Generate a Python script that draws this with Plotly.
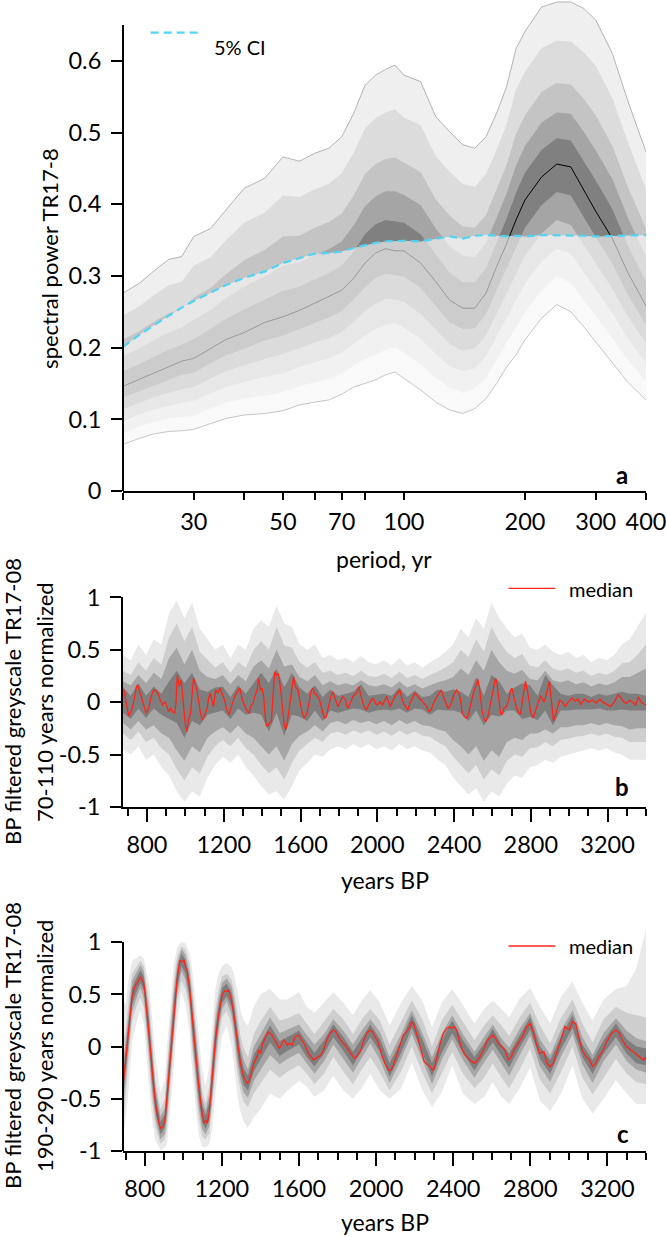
import math
import plotly.graph_objects as go

W, H = 666, 1237
FONT = "Lato"

# ---------------- panel a : spectral power vs period ----------------
PERIOD = [20, 22, 24, 26, 28, 30, 33, 36, 40, 45, 50, 55, 60, 65, 70, 75, 80, 85, 90, 95,
          100, 110, 120, 130, 140, 150, 160, 170, 180, 190, 200, 220, 240, 260, 280, 300, 330, 360, 400]
A_U0 = [.276, .290, .308, .323, .327, .355, .366, .392, .422, .436, .466, .460, .471, .478, .494, .527, .566, .580, .588, .594,
        .580, .571, .522, .501, .483, .478, .494, .527, .564, .617, .641, .675, .682, .682, .673, .657, .610, .545, .473]
A_U1 = [.245, .258, .274, .287, .292, .314, .326, .349, .374, .388, .412, .410, .421, .428, .443, .472, .506, .520, .528, .532,
        .521, .510, .467, .445, .428, .424, .442, .476, .511, .560, .585, .618, .628, .627, .612, .593, .548, .487, .421]
A_U2 = [.211, .223, .237, .248, .254, .270, .283, .302, .322, .336, .355, .356, .367, .375, .387, .412, .442, .456, .463, .465,
        .458, .445, .407, .384, .369, .367, .385, .420, .455, .498, .524, .557, .569, .567, .547, .524, .481, .425, .366]
A_U3 = [.188, .199, .211, .221, .228, .239, .252, .269, .285, .299, .314, .319, .329, .337, .348, .371, .397, .411, .418, .418,
        .413, .399, .366, .341, .328, .326, .346, .381, .415, .454, .481, .514, .528, .526, .501, .475, .435, .382, .327]
A_U4 = [.167, .177, .188, .197, .204, .212, .226, .240, .253, .267, .279, .285, .295, .304, .314, .334, .358, .372, .378, .376,
        .374, .358, .329, .304, .291, .291, .311, .347, .380, .416, .444, .476, .492, .489, .460, .433, .393, .343, .292]
A_MED = [.146, .156, .165, .173, .181, .185, .199, .211, .221, .235, .243, .252, .262, .271, .280, .297, .318, .332, .338, .335,
         .335, .318, .292, .266, .255, .255, .276, .313, .345, .378, .406, .438, .456, .452, .420, .390, .352, .305, .258]
A_L4 = [.130, .140, .148, .155, .162, .165, .178, .189, .198, .210, .217, .226, .234, .242, .251, .267, .284, .297, .303, .301,
        .299, .283, .258, .235, .226, .227, .247, .280, .311, .340, .367, .399, .417, .412, .382, .354, .317, .274, .232]
A_L3 = [.114, .123, .131, .137, .142, .145, .157, .167, .175, .184, .191, .199, .207, .213, .222, .236, .251, .261, .268, .267,
        .264, .247, .225, .205, .196, .199, .217, .248, .276, .303, .328, .359, .378, .371, .344, .317, .282, .244, .206]
A_L2 = [.097, .107, .114, .119, .123, .126, .136, .145, .152, .159, .164, .173, .179, .185, .193, .206, .217, .226, .232, .234,
        .228, .212, .191, .174, .167, .171, .188, .215, .242, .265, .289, .320, .338, .331, .305, .281, .248, .213, .179]
A_L1 = [.081, .090, .097, .101, .103, .105, .115, .123, .129, .133, .138, .146, .152, .156, .164, .175, .184, .190, .197, .200,
        .193, .176, .158, .144, .137, .143, .158, .183, .207, .228, .250, .280, .299, .290, .267, .244, .213, .183, .153]
A_L0 = [.065, .0735, .080, .083, .084, .086, .094, .101, .106, .108, .112, .120, .124, .127, .135, .145, .150, .155, .162, .166,
        .157, .141, .124, .113, .108, .115, .129, .150, .173, .190, .211, .241, .260, .250, .229, .208, .178, .152, .127]
A_CI = [.201, .218, .232, .245, .256, .265, .276, .287, .297, .306, .318, .325, .331, .332, .334, .339, .343, .346, .348, .349,
        .349, .348, .352, .355, .352, .356, .357, .356, .355, .356, .355, .357, .357, .356, .356, .355, .356, .356, .357]
A_XTICKS = [20, 30, 40, 50, 60, 70, 80, 100, 200, 300, 400]
A_XLABELS = ["", "30", "", "50", "", "70", "", "100", "200", "300", "400"]
A_YTICKS = [0, 0.1, 0.2, 0.3, 0.4, 0.5, 0.6]
A_YLABELS = ["0", "0.1", "0.2", "0.3", "0.4", "0.5", "0.6"]

# ---------------- panel b : 70-110 yr band-pass ----------------
B_T = [678, 680, 692, 705, 713, 725, 736, 745, 751, 760, 770, 783, 795, 809, 822, 835, 843, 857, 869, 881, 895, 904, 913, 923,
       933, 944, 951, 958, 968, 978, 989, 999, 1008, 1016, 1027, 1034, 1042, 1051, 1060, 1068, 1079, 1089, 1100, 1112, 1120,
       1129, 1138, 1146, 1158, 1169, 1181, 1190, 1204, 1216, 1228, 1240, 1257, 1275, 1283, 1297, 1309, 1318, 1332, 1339, 1353,
       1361, 1374, 1382, 1391, 1399, 1408, 1419, 1425, 1436, 1448, 1457, 1465, 1474, 1483, 1495, 1505, 1514, 1522, 1529, 1540,
       1552, 1564, 1574, 1587, 1599, 1609, 1621, 1633, 1647, 1656, 1665, 1673, 1685, 1699, 1717, 1725, 1734, 1748, 1760, 1768,
       1782, 1795, 1803, 1820, 1834, 1846, 1859, 1872, 1890, 1904, 1916, 1928, 1942, 1956, 1968, 1980, 1990, 2001, 2014, 2027,
       2039, 2049, 2058, 2066, 2079, 2091, 2105, 2117, 2125, 2136, 2148, 2160, 2170, 2182, 2195, 2205, 2217, 2229, 2243, 2257,
       2269, 2281, 2292, 2304, 2312, 2321, 2333, 2344, 2356, 2368, 2378, 2390, 2402, 2413, 2425, 2434, 2442, 2454, 2465, 2474,
       2486, 2500, 2512, 2524, 2534, 2545, 2555, 2565, 2576, 2586, 2598, 2607, 2616, 2624, 2633, 2642, 2650, 2659, 2673, 2685,
       2694, 2702, 2715, 2730, 2745, 2760, 2772, 2785, 2800, 2812, 2830, 2850, 2870, 2885, 2897, 2905, 2918, 2932, 2950, 2965,
       2980, 2995, 3015, 3030, 3045, 3060, 3080, 3100, 3120, 3140, 3160, 3175, 3195, 3215, 3235, 3255, 3270, 3285, 3300, 3315,
       3330, 3345, 3360, 3375, 3390, 3400]
B_MED = [0.12, 0.116, -0.011, -0.132, -0.106, -0.043, 0.053, 0.148, 0.164, 0.116, 0.053, -0.027, -0.106, -0.059, 0.053, 0.116,
         0.116, 0.085, 0.021, -0.027, 0.005, -0.043, -0.090, -0.059, -0.090, -0.106, -0.011, 0.259, 0.148, 0.212, 0.021, -0.202,
         -0.281, -0.170, -0.106, 0.021, 0.228, 0.180, 0.116, 0.021, -0.106, -0.170, -0.122, -0.074, 0.021, 0.085, 0.021, -0.043,
         0.116, 0.085, 0.132, 0.085, 0.021, -0.074, -0.122, -0.040, 0.053, 0.116, 0.132, 0.021, -0.027, -0.074, -0.106, -0.043,
         -0.011, 0.053, 0.116, 0.228, 0.116, 0.132, 0.053, -0.202, -0.233, -0.202, -0.186, 0.021, 0.291, 0.259, 0.275, 0.148,
         -0.011, -0.202, -0.265, -0.217, -0.074, 0.116, 0.244, 0.148, 0.116, -0.011, -0.106, -0.154, -0.106, 0.021, 0.116, 0.132,
         0.085, 0.069, 0.021, -0.106, -0.154, -0.138, -0.011, 0.069, 0.100, 0.021, -0.043, -0.011, 0.053, 0.021, -0.059, -0.011,
         0.053, 0.085, 0.148, 0.053, -0.027, -0.074, -0.027, 0.021, 0.037, -0.011, -0.027, 0.005, -0.027, 0.021, 0.053, 0.005,
         -0.043, 0.005, 0.053, 0.085, 0.116, 0.053, -0.011, -0.043, -0.074, -0.011, 0.037, 0.085, 0.069, 0.037, 0.021, -0.011,
         -0.043, -0.090, -0.074, -0.011, 0.037, 0.053, 0.085, 0.116, 0.053, -0.011, -0.059, -0.043, 0.021, 0.085, 0.116, 0.085,
         0.021, -0.106, -0.138, -0.154, -0.122, -0.027, 0.085, 0.148, 0.218, 0.116, -0.074, -0.154, -0.186, -0.138, -0.043, 0.053,
         0.148, 0.228, 0.180, 0.021, -0.106, -0.122, -0.059, -0.043, 0.021, 0.116, 0.132, 0.02, -0.08, -0.12, 0.05, 0.20, 0.08,
         -0.10, -0.15, -0.05, 0.06, 0.0, 0.10, 0.20, 0.05, -0.18, -0.10, 0.02, 0.0, -0.04, 0.0, 0.04, 0.01, 0.03, -0.02, 0.03,
         0.0, 0.02, -0.01, 0.03, 0.0, -0.02, -0.04, 0.0, 0.07, 0.04, 0.0, -0.01, 0.02, 0.0, -0.03, 0.05, 0.0, -0.02, -0.03]
B_BT = list(range(675, 3360, 40)) + [3400]
B_O_HI = [.45, .40, .55, .45, .60, .55, .85, .97, .80, .95,
          .70, .60, .50, .55, .42, .55, .50, .70, .78, .72,
          .92, .75, .72, .55, .50, .55, .42, .45, .40, .42,
          .38, .44, .38, .36, .40, .35, .42, .35, .38, .33,
          .38, .42, .48, .55, .70, .62, .80, .70, .95, .80,
          .70, .62, .65, .52, .50, .55, .48, .45, .48, .42,
          .45, .38, .42, .40, .45, .55, .60, .72, .85]
B_O_LO = [-.45, -.50, -.42, -.55, -.50, -.62, -.70, -.85, -.95, -.85,
          -.90, -.72, -.60, -.52, -.58, -.50, -.62, -.70, -.80, -.88,
          -.85, -.93, -.80, -.65, -.58, -.50, -.52, -.45, -.42, -.45,
          -.40, -.44, -.40, -.45, -.42, -.46, -.40, -.45, -.42, -.46,
          -.48, -.55, -.60, -.72, -.80, -.88, -.82, -.95, -.85, -.90,
          -.78, -.70, -.72, -.62, -.60, -.55, -.58, -.52, -.50, -.48,
          -.46, -.44, -.46, -.44, -.48, -.50, -.55, -.55, -.55]
B_S_HI = [.30, .26, .38, .30, .42, .36, .62, .75, .58, .72,
          .48, .40, .33, .38, .28, .38, .33, .50, .58, .50,
          .72, .54, .52, .38, .33, .38, .28, .30, .26, .28,
          .25, .30, .25, .24, .27, .23, .29, .23, .26, .22,
          .26, .29, .33, .38, .50, .43, .60, .48, .72, .58,
          .48, .42, .46, .35, .33, .40, .32, .30, .32, .28,
          .30, .25, .28, .26, .30, .37, .38, .45, .55]
B_S_LO = [-.30, -.36, -.28, -.38, -.34, -.44, -.50, -.64, -.75, -.62,
          -.68, -.52, -.42, -.36, -.42, -.34, -.44, -.50, -.60, -.68,
          -.62, -.74, -.58, -.46, -.40, -.34, -.38, -.30, -.28, -.31,
          -.27, -.30, -.27, -.31, -.28, -.32, -.27, -.31, -.28, -.32,
          -.33, -.38, -.42, -.52, -.60, -.68, -.60, -.74, -.64, -.70,
          -.56, -.50, -.52, -.44, -.43, -.38, -.42, -.36, -.35, -.33,
          -.32, -.30, -.32, -.30, -.33, -.34, -.38, -.38, -.38]
B_T_HI = [.20, .16, .26, .18, .28, .22, .42, .52, .36, .50,
          .30, .24, .22, .26, .17, .26, .20, .34, .40, .32,
          .50, .34, .36, .24, .20, .26, .16, .20, .16, .18,
          .16, .21, .16, .15, .17, .14, .20, .14, .17, .13,
          .16, .19, .21, .24, .32, .26, .40, .30, .50, .38,
          .30, .27, .31, .22, .21, .30, .21, .19, .21, .17,
          .19, .15, .18, .16, .19, .24, .24, .28, .32]
B_T_LO = [-.20, -.26, -.18, -.26, -.22, -.30, -.34, -.46, -.56, -.42,
          -.48, -.34, -.28, -.24, -.30, -.22, -.30, -.34, -.42, -.50,
          -.42, -.56, -.40, -.32, -.28, -.22, -.28, -.20, -.18, -.21,
          -.17, -.20, -.18, -.21, -.18, -.22, -.17, -.21, -.18, -.22,
          -.23, -.26, -.28, -.36, -.42, -.50, -.42, -.56, -.46, -.52,
          -.38, -.34, -.36, -.30, -.30, -.26, -.30, -.24, -.24, -.22,
          -.22, -.20, -.22, -.20, -.22, -.23, -.26, -.25, -.25]
B_I_HI = [.14, .06, .18, .06, .15, .08, .20, .30, .18, .28,
          .12, .10, .14, .15, .05, .16, .08, .18, .28, .18,
          .32, .14, .28, .14, .08, .16, .05, .12, .06, .08,
          .10, .17, .06, .07, .08, .06, .14, .05, .11, .05,
          .06, .12, .10, .12, .10, .05, .24, .06, .26, .20,
          .08, .14, .18, .16, .06, .26, .16, .08, .06, .08,
          .08, .05, .08, .06, .08, .10, .08, .08, .06]
B_I_LO = [-.10, -.16, -.06, -.15, -.06, -.12, -.16, -.20, -.34, -.18,
          -.22, -.12, -.10, -.08, -.16, -.06, -.12, -.10, -.12, -.28,
          -.10, -.32, -.12, -.14, -.18, -.08, -.18, -.08, -.10, -.08,
          -.06, -.07, -.10, -.08, -.07, -.08, -.06, -.10, -.06, -.07,
          -.12, -.07, -.08, -.08, -.10, -.18, -.08, -.22, -.12, -.14,
          -.08, -.08, -.16, -.14, -.17, -.08, -.22, -.08, -.08, -.07,
          -.07, -.07, -.06, -.08, -.08, -.07, -.08, -.08, -.08]

# ---------------- panel c : 190-290 yr band-pass ----------------
C_T = [687.5, 699.6, 716.9, 734.2, 748, 760.1, 768.7, 777.4, 786, 794.7, 803.3, 820.6, 837.9, 855.2, 869, 881.1, 893.2, 903.6,
       915.7, 933, 950.3, 967.6, 981.4, 990, 997, 1003.9, 1010.8, 1019.4, 1031.5, 1045.4, 1062.7, 1080, 1097.2, 1107.6, 1118,
       1124.9, 1135.3, 1149.1, 1166.4, 1183.7, 1201, 1214.8, 1226.9, 1235.5, 1249.4, 1261.5, 1278.8, 1296.1, 1313.3, 1330.6,
       1339.3, 1353.1, 1365.2, 1382.5, 1391.2, 1399.8, 1411.9, 1425.7, 1439.6, 1451.7, 1460.3, 1474.1, 1486.3, 1498.4, 1508.7,
       1520.8, 1529.5, 1538.1, 1550.2, 1564, 1580, 1597, 1614, 1631, 1649, 1666, 1675, 1687, 1701, 1714, 1727, 1744, 1761, 1778,
       1791, 1804, 1822, 1839, 1856, 1874, 1887, 1899, 1917, 1934, 1951, 1969, 1981, 1995, 2012, 2029, 2046, 2064, 2077, 2090,
       2107, 2124, 2141, 2159, 2176, 2185, 2193, 2202, 2216, 2233, 2250, 2268, 2280, 2292, 2302, 2314, 2332, 2349, 2366, 2378,
       2392, 2406, 2418, 2430, 2444, 2461, 2479, 2496, 2513, 2527, 2539, 2556, 2574, 2591, 2600, 2608, 2620, 2634, 2652, 2669,
       2686, 2703, 2715, 2738, 2759, 2782, 2799, 2815, 2830, 2848, 2870, 2887, 2903, 2918, 2936, 2953, 2969, 2980, 3002, 3019,
       3035, 3050, 3068, 3090, 3107, 3123, 3139, 3156, 3178, 3200, 3222, 3244, 3262, 3277, 3299, 3321, 3344, 3366, 3388, 3400]
C_MED = [-0.368, -0.161, 0.158, 0.477, 0.573, 0.605, 0.636, 0.668, 0.636, 0.605, 0.477, 0.158, -0.225, -0.544, -0.703, -0.783,
         -0.767, -0.719, -0.480, -0.097, 0.317, 0.636, 0.828, 0.812, 0.812, 0.828, 0.764, 0.732, 0.573, 0.285, -0.066, -0.384,
         -0.639, -0.735, -0.703, -0.735, -0.608, -0.321, 0.062, 0.317, 0.493, 0.534, 0.525, 0.541, 0.445, 0.317, 0.062, -0.161,
         -0.289, -0.352, -0.336, -0.257, -0.161, -0.097, -0.033, -0.066, 0.030, 0.094, 0.142, 0.120, 0.110, 0.062, 0.015, -0.018,
         0.015, 0.062, 0.047, 0.015, 0.030, 0.015, 0.094, 0.110, 0.062, 0.015, -0.066, -0.113, -0.129, -0.113, -0.097, -0.081,
         -0.033, 0.062, 0.126, 0.158, 0.142, 0.094, 0.047, 0.015, -0.033, -0.081, -0.113, -0.097, -0.050, 0.047, 0.126, 0.158,
         0.142, 0.094, 0.030, -0.081, -0.161, -0.225, -0.225, -0.177, -0.081, 0.030, 0.110, 0.142, 0.190, 0.238, 0.222, 0.174,
         0.078, -0.050, -0.145, -0.177, -0.193, -0.225, -0.209, -0.113, 0.030, 0.126, 0.174, 0.190, 0.174, 0.190, 0.158, 0.062,
         -0.018, -0.081, -0.113, -0.145, -0.161, -0.129, -0.097, -0.033, 0.047, 0.088, 0.094, 0.110, 0.078, 0.030, -0.002, -0.033,
         -0.129, -0.090, -0.034, 0.030, 0.094, 0.190, 0.221, 0.142, 0.030, -0.066, -0.050, -0.161, -0.193, -0.161, -0.050, 0.030,
         0.126, 0.190, 0.158, 0.237, 0.220, 0.094, -0.034, -0.097, -0.129, -0.193, -0.160, -0.097, -0.034, 0.062, 0.126, 0.158,
         0.126, 0.062, 0.000, -0.034, -0.066, -0.097, -0.129, -0.097]
C_BT = [687.5, 699.6, 716.9, 734.2, 760.1, 777.4, 794.7, 820.6, 837.9, 855.2, 881.1, 903.6, 915.7, 933, 950.3, 967.6, 990,
        1010.8, 1031.5, 1045.4, 1062.7, 1080, 1097.2, 1115, 1135.3, 1149.1, 1166.4, 1183.7, 1201, 1225, 1249.4, 1261.5, 1278.8,
        1296.1, 1313.3, 1335, 1365.2, 1400,
        1450, 1500, 1540, 1600, 1640, 1680, 1730, 1778, 1830, 1880, 1925, 1970, 2020, 2070, 2130, 2185, 2240, 2290, 2340, 2395,
        2450, 2510, 2560, 2605, 2650, 2690, 2745, 2799, 2850, 2903, 2960, 3019, 3070, 3123, 3180, 3244, 3300, 3350, 3400]
C_O_HI = [0.45, 0.40, 0.65, 0.82, 0.85, 0.87, 0.84, 0.62, 0.28, -0.10, -0.45, -0.32, 0.0, 0.38, 0.78, 0.95, 1.0, 0.99, 0.90,
          0.75, 0.42, 0.10, -0.22, -0.38, -0.18, 0.18, 0.55, 0.70, 0.77, 0.80, 0.76, 0.70, 0.55, 0.35, 0.25, 0.20, 0.38, 0.50,
          .55, .45, .45, .52, .38, .32, .42, .52, .42, .30, .44, .54, .42, .20, .42, .58, .44, .18, .42, .55, .40, .22, .36, .44,
          .36, .28, .46, .56, .38, .22, .48, .62, .42, .25, .45, .55, .58, .75, 1.12]
C_O_LO = [-0.90, -0.70, -0.40, 0.05, 0.25, 0.35, 0.22, -0.35, -0.70, -0.90, -0.99, -0.97, -0.93, -0.60, -0.20, 0.22, 0.52,
          0.40, 0.15, -0.22, -0.56, -0.85, -0.96, -0.97, -0.93, -0.80, -0.45, -0.12, 0.10, 0.20, 0.02, -0.15, -0.45, -0.62, -0.72,
          -0.78, -0.68, -0.60,
          -.45, -.50, -.42, -.33, -.38, -.48, -.42, -.28, -.42, -.50, -.40, -.26, -.42, -.50, -.40, -.15, -.42, -.58, -.44, -.18,
          -.45, -.55, -.48, -.34, -.48, -.55, -.40, -.20, -.52, -.62, -.45, -.18, -.50, -.64, -.50, -.32, -.45, -.55, -.55]
C_S_HI = [0.05, 0.14, 0.46, 0.70, 0.77, 0.82, 0.77, 0.46, 0.08, -0.32, -0.60, -0.50, -0.18, 0.20, 0.62, 0.86, 0.96, 0.93,
          0.80, 0.59, 0.24, -0.08, -0.42, -0.54, -0.38, -0.02, 0.36, 0.55, 0.67, 0.70, 0.64, 0.55, 0.35, 0.10, -0.02, -0.10,
          0.12, 0.24,
          .38, .25, .27, .32, .22, .12, .24, .36, .26, .12, .26, .36, .25, .02, .24, .44, .26, 0, .25, .40, .24, .06, .20, .30,
          .20, .10, .28, .42, .20, .03, .28, .45, .22, .04, .26, .38, .32, .30, .28]
C_S_LO = [-0.75, -0.46, -0.14, 0.25, 0.40, 0.47, 0.38, -0.14, -0.53, -0.77, -0.93, -0.89, -0.78, -0.40, 0.02, 0.41, 0.63, 0.55,
          0.35, -0.02, -0.37, -0.69, -0.86, -0.89, -0.83, -0.62, -0.24, 0.08, 0.28, 0.34, 0.22, 0.06, -0.24, -0.42, -0.53, -0.58,
          -0.45, -0.35,
          -.22, -.30, -.24, -.18, -.26, -.36, -.26, -.10, -.24, -.36, -.22, -.10, -.25, -.42, -.24, 0, -.25, -.45, -.26, -.05,
          -.26, -.40, -.30, -.16, -.30, -.40, -.22, -.02, -.32, -.45, -.24, 0, -.30, -.46, -.30, -.12, -.26, -.34, -.36]
C_T_HI = [-0.17, 0.04, 0.36, 0.63, 0.72, 0.78, 0.72, 0.36, -0.02, -0.39, -0.67, -0.59, -0.28, 0.10, 0.52, 0.79, 0.93, 0.88,
          0.72, 0.49, 0.14, -0.18, -0.49, -0.61, -0.46, -0.12, 0.26, 0.47, 0.61, 0.65, 0.58, 0.47, 0.25, 0.0, -0.13, -0.22,
          0.0, 0.11,
          .28, .13, .16, .21, .11, .02, .12, .26, .15, .02, .15, .26, .14, -.10, .12, .35, .13, -.10, .12, .30, .12, -.05, .09,
          .21, .08, -.01, .17, .32, .07, -.08, .16, .35, .09, -.08, .13, .27, .15, .08, .05]
C_T_LO = [-0.57, -0.36, -0.04, 0.33, 0.48, 0.56, 0.47, -0.04, -0.43, -0.69, -0.89, -0.84, -0.68, -0.30, 0.12, 0.49, 0.72, 0.64,
          0.42, 0.08, -0.27, -0.59, -0.79, -0.84, -0.76, -0.52, -0.14, 0.16, 0.36, 0.43, 0.31, 0.16, -0.13, -0.33, -0.44, -0.49,
          -0.33, -0.22,
          -.08, -.17, -.12, -.06, -.16, -.26, -.14, .02, -.12, -.25, -.11, .03, -.13, -.35, -.12, .12, -.13, -.36, -.13, .07,
          -.13, -.30, -.15, -.03, -.16, -.28, -.08, .10, -.19, -.34, -.09, .12, -.17, -.35, -.14, .02, -.14, -.22, -.25]
C_I_HI = [-0.26, -0.05, 0.27, 0.56, 0.67, 0.73, 0.67, 0.27, -0.11, -0.46, -0.72, -0.65, -0.37, 0.01, 0.43, 0.72, 0.89, 0.83,
          0.65, 0.40, 0.05, -0.27, -0.56, -0.66, -0.53, -0.21, 0.17, 0.40, 0.56, 0.60, 0.52, 0.40, 0.16, -0.07, -0.21, -0.28,
          -0.08, 0.03,
          .20, .05, .09, .15, .04, -.06, .06, .21, .09, -.05, .08, .21, .07, -.16, .06, .30, .07, -.16, .06, .25, .06, -.10, .03,
          .17, .02, -.07, .11, .28, 0, -.13, .10, .30, .02, -.13, .06, .22, .07, 0, -.02]
C_I_LO = [-0.48, -0.27, 0.05, 0.40, 0.54, 0.61, 0.54, 0.05, -0.34, -0.62, -0.84, -0.78, -0.59, -0.21, 0.21, 0.56, 0.77, 0.70,
          0.49, 0.17, -0.18, -0.50, -0.72, -0.79, -0.69, -0.43, -0.05, 0.23, 0.42, 0.48, 0.38, 0.23, -0.04, -0.25, -0.37, -0.42,
          -0.24, -0.13,
          .04, -.09, -.04, .02, -.10, -.19, -.07, .09, -.04, -.18, -.04, .09, -.05, -.29, -.06, .18, -.06, -.29, -.06, .13, -.06,
          -.23, -.08, .04, -.09, -.20, -.01, .16, -.12, -.26, -.02, .18, -.10, -.26, -.07, .09, -.07, -.16, -.18]

T_MAJOR = [800, 1200, 1600, 2000, 2400, 2800, 3200]
T_LABELS = ["800", "1200", "1600", "2000", "2400", "2800", "3200"]
T_MINOR = list(range(700, 3401, 100))
BC_YTICKS = [-1, -0.5, 0, 0.5, 1]
BC_YLABELS = ["-1", "-0.5", "0", "0.5", "1"]

# ---------------- helpers ----------------
def px(x):
    return x / W


def py(y):
    return 1 - y / H


def band(x, hi, lo, color, xa, ya):
    return go.Scatter(x=list(x) + list(x)[::-1], y=list(hi) + list(lo)[::-1], fill="toself",
                      fillcolor=color, line=dict(width=0), mode="lines", hoverinfo="skip",
                      showlegend=False, xaxis=xa, yaxis=ya)


fig = go.Figure()

# panel a
A_GREYS = ["#efefef", "#dcdcdc", "#c4c4c4", "#a5a5a5", "#808080"]
for hi, lo, col in zip([A_U0, A_U1, A_U2, A_U3, A_U4], [A_L0, A_L1, A_L2, A_L3, A_L4], A_GREYS):
    fig.add_trace(band(PERIOD, hi, lo, col, "x", "y"))
fig.add_trace(go.Scatter(x=PERIOD, y=A_MED, mode="lines", line=dict(color="black", width=1),
                         showlegend=False, hoverinfo="skip"))
fig.add_trace(go.Scatter(x=PERIOD, y=A_CI, mode="lines", line=dict(width=0), fill="tozeroy",
                         fillcolor="rgba(255,255,255,0.6)", showlegend=False, hoverinfo="skip"))
fig.add_trace(go.Scatter(x=PERIOD, y=A_U0, mode="lines", line=dict(color="#a2a2a2", width=0.8),
                         showlegend=False, hoverinfo="skip"))
fig.add_trace(go.Scatter(x=PERIOD, y=A_L0, mode="lines", line=dict(color="#b8b8b8", width=0.8),
                         showlegend=False, hoverinfo="skip"))
fig.add_trace(go.Scatter(x=PERIOD, y=A_CI, mode="lines", line=dict(color="#52d4f2", width=2.2, dash="8px,5px"),
                         showlegend=False, hoverinfo="skip"))

# panel b
BC_GREYS = ["#e9e9e9", "#cecece", "#a6a6a6", "#7e7e7e"]
for hi, lo, col in zip([B_O_HI, B_S_HI, B_T_HI, B_I_HI], [B_O_LO, B_S_LO, B_T_LO, B_I_LO], BC_GREYS):
    fig.add_trace(band(B_BT, hi, lo, col, "x2", "y2"))
fig.add_trace(go.Scatter(x=B_T, y=B_MED, mode="lines", line=dict(color="#ff2418", width=1.3),
                         showlegend=False, hoverinfo="skip", xaxis="x2", yaxis="y2"))

# panel c
for hi, lo, col in zip([C_O_HI, C_S_HI, C_T_HI, C_I_HI], [C_O_LO, C_S_LO, C_T_LO, C_I_LO], BC_GREYS):
    fig.add_trace(band(C_BT, hi, lo, col, "x3", "y3"))
fig.add_trace(go.Scatter(x=C_T, y=C_MED, mode="lines", line=dict(color="#ff2418", width=1.3),
                         showlegend=False, hoverinfo="skip", xaxis="x3", yaxis="y3"))

XD = [px(123), px(646)]
tickfont = dict(family=FONT, size=23.5, color="black")
common_x = dict(showgrid=False, zeroline=False, showline=True, linecolor="black", linewidth=2,
                ticks="outside", tickcolor="black", tickwidth=1.5, tickfont=tickfont, automargin=False,
                ticklabeloverflow="allow")
common_y = dict(showgrid=False, zeroline=False, ticks="outside", tickcolor="black", tickwidth=1.5,
                ticklen=11, tickfont=tickfont, automargin=False, tickmode="array",
                tickvals=BC_YTICKS, ticktext=BC_YLABELS, ticklabelstandoff=5, ticklabeloverflow="allow")
minor = dict(tickmode="array", tickvals=T_MINOR, ticklen=7, tickwidth=1.5,
             tickcolor="black", ticks="outside", showgrid=False)

fig.update_layout(
    width=W, height=H, margin=dict(l=0, r=0, t=0, b=0),
    paper_bgcolor="white", plot_bgcolor="white", showlegend=False,
    font=dict(family=FONT, size=22, color="black"),
    xaxis=dict(common_x, type="log", range=[math.log10(20), math.log10(400)], domain=XD, anchor="y",
               tickmode="array", tickvals=A_XTICKS, ticktext=A_XLABELS, ticklen=7, ticklabelstandoff=2),
    yaxis=dict(common_y, range=[0, 491 / 717], domain=[py(491), 1.0], anchor="x", showline=False,
               tickvals=A_YTICKS, ticktext=A_YLABELS),
    xaxis2=dict(common_x, range=[675, 3400], domain=XD, anchor="y2", tickmode="array",
                tickvals=T_MAJOR, ticktext=T_LABELS, ticklen=13, ticklabelstandoff=3, minor=minor),
    yaxis2=dict(common_y, range=[-1, 1], domain=[py(807), py(597.3)], anchor="x2",
                showline=True, linecolor="black", linewidth=2),
    xaxis3=dict(common_x, range=[687, 3400], domain=XD, anchor="y3", tickmode="array",
                tickvals=T_MAJOR, ticktext=T_LABELS, ticklen=13, ticklabelstandoff=3, minor=minor),
    yaxis3=dict(common_y, range=[-1, 1.12], domain=[py(1151), py(929.5)], anchor="x3", showline=False),
)

# y-axis lines that stop at the top tick (data overflows above them)
fig.add_shape(type="line", xref="x domain", yref="y", x0=0, x1=0, y0=0, y1=0.65,
              line=dict(color="black", width=2))
fig.add_shape(type="line", xref="x3 domain", yref="y3", x0=0, x1=0, y0=-1, y1=1,
              line=dict(color="black", width=2))

# legend samples
fig.add_shape(type="line", xref="paper", yref="paper", x0=px(150.7), x1=px(200), y0=py(32.7), y1=py(32.7),
              line=dict(color="#52d4f2", width=2.2, dash="8px,5px"))
fig.add_shape(type="line", xref="paper", yref="paper", x0=px(508.5), x1=px(555.2), y0=py(588.3), y1=py(588.3),
              line=dict(color="#ff2418", width=1.3))
fig.add_shape(type="line", xref="paper", yref="paper", x0=px(508.5), x1=px(555.2), y0=py(946), y1=py(946),
              line=dict(color="#ff2418", width=1.3))


def txt(s, x, y, size=22, angle=0, xanchor="center", bold=False):
    fig.add_annotation(text=f"<b>{s}</b>" if bold else s, x=px(x), y=py(y), xref="paper", yref="paper",
                       showarrow=False, textangle=angle, xanchor=xanchor, yanchor="middle",
                       font=dict(family=FONT, size=size, color="black"))


txt("5% CI", 211.7, 46.7, size=20, xanchor="left")
txt("median", 567, 589, size=20, xanchor="left")
txt("median", 567, 946, size=20, xanchor="left")
txt("a", 622, 474, size=24, bold=True)
txt("b", 621.5, 786.7, size=24, bold=True)
txt("c", 623, 1133, size=24, bold=True)
txt("spectral power TR17-8", 48.9, 258, angle=-90)
txt("BP filtered greyscale TR17-08", 12, 702, angle=-90)
txt("70-110 years normalized", 44, 702, angle=-90)
txt("BP filtered greyscale TR17-08", 12, 1046, angle=-90)
txt("190-290 years normalized", 44, 1046, angle=-90)
txt("period, yr", 384.5, 559, size=23)
txt("years BP", 385, 880, size=23)
txt("years BP", 385, 1222, size=23)

fig.write_html("out.html")
